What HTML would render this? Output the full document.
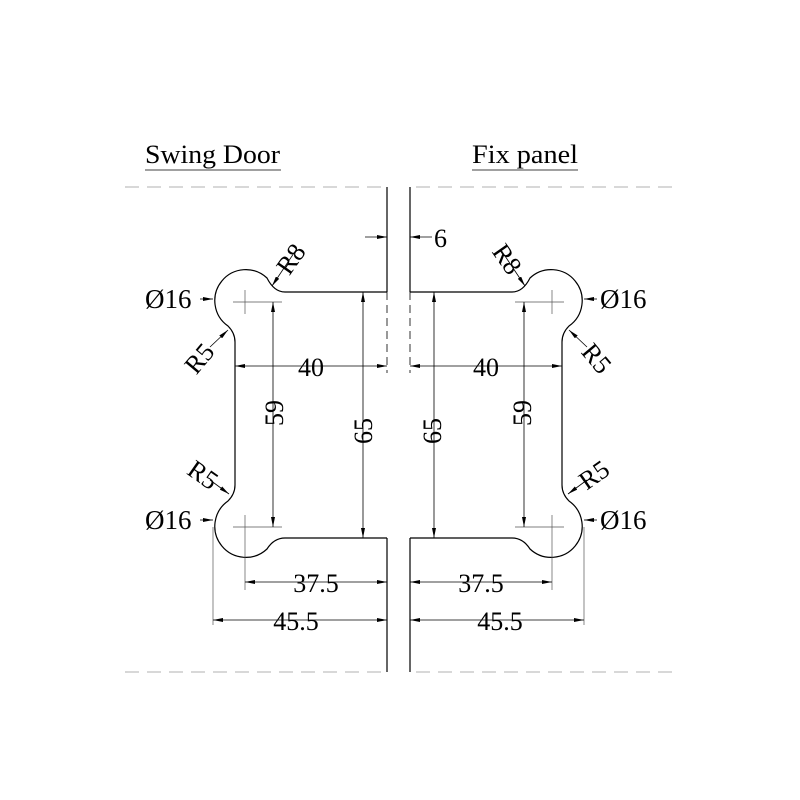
<!DOCTYPE html>
<html><head><style>body{margin:0;background:#fff}svg{display:block}</style></head><body>
<svg width="800" height="800" viewBox="0 0 800 800" xmlns="http://www.w3.org/2000/svg">
<defs>
<marker id="a" viewBox="0 0 10 4" refX="10" refY="2" markerWidth="10" markerHeight="4" markerUnits="userSpaceOnUse" orient="auto"><path d="M0,0L10,2L0,4z" fill="#000"/></marker>
<marker id="s" viewBox="0 0 10 4" refX="10" refY="2" markerWidth="10" markerHeight="4" markerUnits="userSpaceOnUse" orient="auto-start-reverse"><path d="M0,0L10,2L0,4z" fill="#000"/></marker>
<g id="half" fill="none" stroke="#000">
<path d="M387,292 L285,292 Q274,292 267,278 A31,31 0 1 0 228,326 Q235,333 235,342 L235,485 Q235,494 228,501 A31,31 0 1 0 267,549 Q274,538 285,538 L387,538" stroke-width="1.2"/>
<line x1="387" y1="187" x2="387" y2="292" stroke-width="1.2"/>
<line x1="387" y1="292" x2="387" y2="373" stroke-width="0.8" stroke-dasharray="8,5"/>
<line x1="387" y1="538" x2="387" y2="672" stroke-width="1.2"/>
<line x1="125" y1="187" x2="387" y2="187" stroke="#999" stroke-width="0.8" stroke-dasharray="14,8"/>
<line x1="125" y1="672" x2="387" y2="672" stroke="#999" stroke-width="0.8" stroke-dasharray="14,8"/>
<g stroke-width="0.7" stroke="#555">
<line x1="233" y1="302" x2="282" y2="302"/><line x1="245" y1="290" x2="245" y2="314"/>
<line x1="233" y1="527" x2="282" y2="527"/><line x1="245" y1="515" x2="245" y2="590"/>
<line x1="213" y1="527" x2="213" y2="625"/>
</g>
<g stroke-width="0.8">
<line x1="365" y1="237" x2="387" y2="237" marker-end="url(#a)"/>
<line x1="235" y1="366" x2="387" y2="366" marker-start="url(#s)" marker-end="url(#a)"/>
<line x1="273" y1="302" x2="273" y2="527" marker-start="url(#s)" marker-end="url(#a)"/>
<line x1="363" y1="292" x2="363" y2="538" marker-start="url(#s)" marker-end="url(#a)"/>
<line x1="245" y1="582" x2="387" y2="582" marker-start="url(#s)" marker-end="url(#a)"/>
<line x1="213" y1="620" x2="387" y2="620" marker-start="url(#s)" marker-end="url(#a)"/>
<line x1="200" y1="299" x2="213" y2="299" marker-end="url(#a)"/>
<line x1="200" y1="520" x2="213" y2="520" marker-end="url(#a)"/>
<line x1="296" y1="250" x2="272" y2="286" marker-end="url(#a)"/>
<line x1="210" y1="347" x2="228" y2="330" marker-end="url(#a)"/>
<line x1="210" y1="480" x2="229" y2="494" marker-end="url(#a)"/>
</g>
</g>
</defs>
<use href="#half"/>
<use href="#half" transform="translate(797,0) scale(-1,1)"/>
<g font-family="Liberation Serif, serif" font-size="26" fill="#000">
<text x="145" y="163" textLength="135" lengthAdjust="spacingAndGlyphs">Swing Door</text>
<text x="472" y="163" textLength="106" lengthAdjust="spacingAndGlyphs">Fix panel</text>
<line x1="145" y1="170" x2="281" y2="170" stroke="#000" stroke-width="0.8"/>
<line x1="472" y1="170" x2="578" y2="170" stroke="#000" stroke-width="0.8"/>
<text x="434" y="247">6</text>
<g font-size="27">
<text x="145" y="308">Ø16</text><text x="145" y="529">Ø16</text>
<text x="600" y="308">Ø16</text><text x="600" y="529">Ø16</text>
</g>
<text x="311" y="376" text-anchor="middle">40</text>
<text x="486" y="376" text-anchor="middle">40</text>
<text x="316" y="592" text-anchor="middle">37.5</text>
<text x="481" y="592" text-anchor="middle">37.5</text>
<text x="296" y="630" text-anchor="middle">45.5</text>
<text x="500" y="630" text-anchor="middle">45.5</text>
<text transform="translate(283,413) rotate(-90)" text-anchor="middle">59</text>
<text transform="translate(372,431) rotate(-90)" text-anchor="middle">65</text>
<text transform="translate(441,431) rotate(-90)" text-anchor="middle">65</text>
<text transform="translate(531,413) rotate(-90)" text-anchor="middle">59</text>
<text transform="translate(298,264) rotate(-55)" text-anchor="middle">R8</text>
<text transform="translate(500,264) rotate(55)" text-anchor="middle">R8</text>
<text transform="translate(206,364) rotate(-50)" text-anchor="middle">R5</text>
<text transform="translate(590,364) rotate(50)" text-anchor="middle">R5</text>
<text transform="translate(198,482) rotate(35)" text-anchor="middle">R5</text>
<text transform="translate(599,482) rotate(-35)" text-anchor="middle">R5</text>
</g>
</svg>
</body></html>
